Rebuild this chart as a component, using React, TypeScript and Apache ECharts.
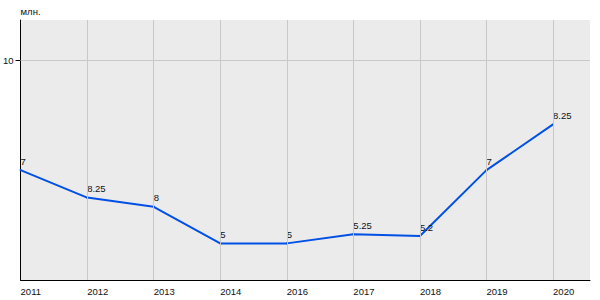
import React, { useEffect, useRef } from "react";
import * as echarts from "echarts";

const categories = ["2011", "2012", "2013", "2014", "2016", "2017", "2018", "2019", "2020"];
const values = [7, 6.25, 6, 5, 5, 5.25, 5.2, 7, 8.25];
const pointLabels = ["7", "8.25", "8", "5", "5", "5.25", "5.2", "7", "8.25"];
const yTickValues = [10];
const unitName = "млн.";

const FONT = "'Liberation Sans', Arial, sans-serif";
const FS = 9.5;

export default function App() {
  const ref = useRef<HTMLDivElement>(null);
  useEffect(() => {
    document.body.style.margin = "0";
    if (!ref.current) return;
    const chart = echarts.init(ref.current, undefined, { renderer: "svg" });
    const xIdx = categories.map((_, i) => i);
    chart.setOption({
      animation: false,
      textStyle: { fontFamily: FONT },
      grid: {
        left: 20,
        right: 10,
        top: 20,
        bottom: 20,
        show: true,
        backgroundColor: "#ebebeb",
        borderWidth: 0,
      },
      xAxis: {
        type: "value",
        min: 0,
        max: 8.555,
        axisLine: { show: true, lineStyle: { color: "#000", width: 1 } },
        axisTick: { show: false },
        splitLine: { show: false },
        axisLabel: {
          customValues: xIdx,
          formatter: (v: number) => categories[Math.round(v)] ?? "",
          align: "left",
          margin: 6,
          fontSize: FS,
          color: "#111",
          fontFamily: FONT,
          hideOverlap: false,
        },
      },
      yAxis: {
        type: "value",
        min: 4,
        max: 11.1,
        name: unitName,
        nameLocation: "end",
        nameGap: 4,
        nameTextStyle: { align: "left", fontSize: FS, color: "#111", fontFamily: FONT },
        axisLine: { show: true, lineStyle: { color: "#000", width: 1 } },
        axisTick: { show: true, customValues: yTickValues, length: 5, lineStyle: { color: "#000" } },
        splitLine: { show: false },
        axisLabel: {
          customValues: yTickValues,
          formatter: (v: number) => String(Math.round(v)),
          margin: 7,
          fontSize: FS,
          color: "#111",
          fontFamily: FONT,
        },
      },
      series: [
        {
          type: "line",
          data: [],
          z: 1,
          silent: true,
          markLine: {
            silent: true,
            symbol: ["none", "none"],
            label: { show: false },
            lineStyle: { color: "#c8c8c8", type: "solid", width: 1 },
            data: [
              ...xIdx.slice(1).map((i) => ({ xAxis: i })),
              ...yTickValues.map((v) => ({ yAxis: v })),
            ],
          },
        },
        {
          type: "line",
          z: 3,
          data: values.map((v, i) => [i, v]),
          symbol: "circle",
          symbolSize: 2,
          itemStyle: { color: "#0050e6" },
          lineStyle: { color: "#0050e6", width: 2 },
          label: {
            show: true,
            position: "top",
            align: "left",
            distance: 3,
            fontSize: FS,
            color: "#111",
            fontFamily: FONT,
            formatter: (p: any) => pointLabels[p.dataIndex],
          },
        },
      ],
    });
    return () => chart.dispose();
  }, []);
  return <div ref={ref} style={{ width: 600, height: 300 }} />;
}
